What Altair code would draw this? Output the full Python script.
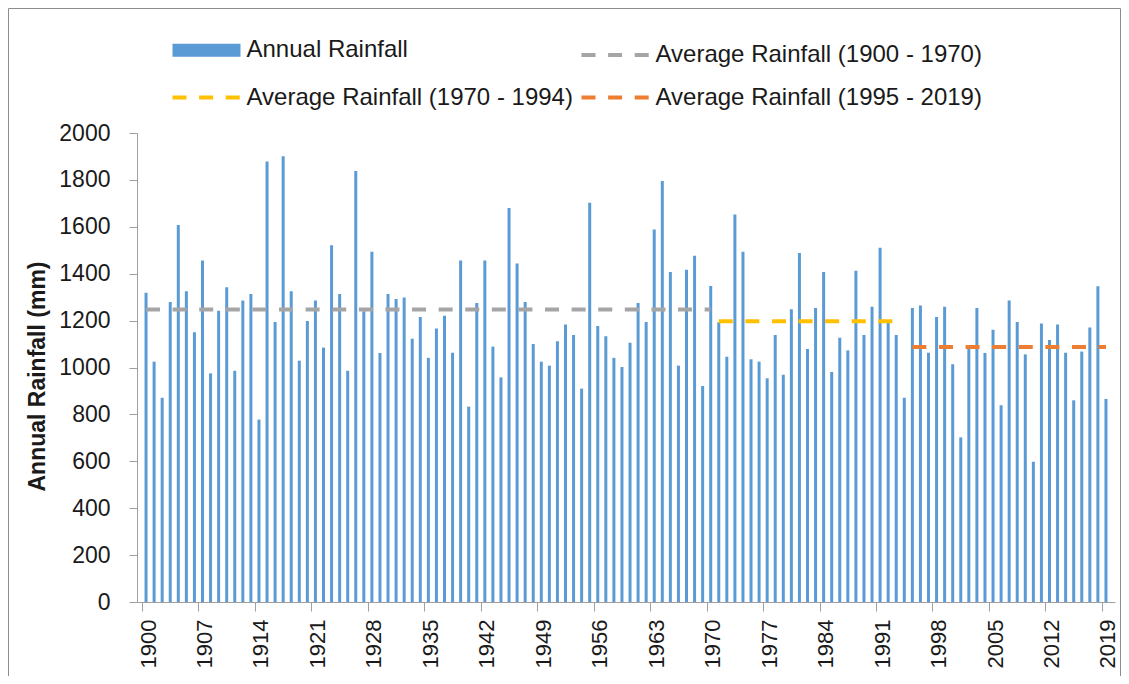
import altair as alt
import pandas as pd

# ---- data ----
years = list(range(1900, 2020))
rainfall = [
    1319, 1025, 871, 1279, 1608, 1325, 1150, 1456, 975, 1242,   # 1900-1909
    1342, 986, 1286, 1313, 778, 1878, 1194, 1901, 1325, 1029,   # 1910-1919
    1198, 1286, 1085, 1521, 1313, 986, 1838, 1240, 1494, 1062,  # 1920-1929
    1313, 1292, 1298, 1123, 1215, 1041, 1166, 1221, 1063, 1456, # 1930-1939
    833, 1275, 1456, 1089, 958, 1680, 1444, 1279, 1100, 1025,   # 1940-1949
    1008, 1112, 1183, 1139, 910, 1703, 1177, 1133, 1041, 1002,  # 1950-1959
    1106, 1275, 1194, 1588, 1795, 1407, 1008, 1417, 1477, 921,  # 1960-1969
    1348, 1193, 1046, 1652, 1494, 1035, 1025, 954, 1139, 969,   # 1970-1979
    1248, 1488, 1079, 1254, 1407, 981, 1127, 1073, 1413, 1139,  # 1980-1989
    1259, 1511, 1193, 1139, 871, 1254, 1264, 1063, 1215, 1259,  # 1990-1999
    1014, 702, 1079, 1254, 1062, 1161, 839, 1286, 1194, 1056,   # 2000-2009
    598, 1188, 1117, 1183, 1063, 860, 1068, 1171, 1346, 866,    # 2010-2019
]

# legend order (column-major grid of 2 columns)
series_names = [
    "Annual Rainfall",
    "Average Rainfall (1970 - 1994)",
    "Average Rainfall (1900 - 1970)",
    "Average Rainfall (1995 - 2019)",
]
series_colors = ["#5B9BD5", "#FFC000", "#A5A5A5", "#ED7D31"]
series_dash = [[1, 0], [14, 12.6], [14, 12.6], [14, 12.6]]
series_width = [13, 4, 4, 4]

avg_names = [
    "Average Rainfall (1900 - 1970)",
    "Average Rainfall (1970 - 1994)",
    "Average Rainfall (1995 - 2019)",
]
avg_values = [1247, 1197, 1087]
avg_start = [1900, 1971, 1995]
avg_end = [1970, 1993, 2019]

x_label_years = list(range(1900, 2020, 7))
y_ticks = list(range(0, 2001, 200))

# ---- tables ----
bars_df = pd.DataFrame({"year": years, "rain": rainfall})
rows = []
for n, v, s, e in zip(avg_names, avg_values, avg_start, avg_end):
    rows.append({"year": s, "rain": v, "series": n})
    rows.append({"year": e, "rain": v, "series": n})
lines_df = pd.DataFrame(rows)

FONT = "Liberation Sans, Arial, sans-serif"
TXT = "#1a1a1a"
AX = "#A0A0A0"
W, H = 978, 469
half = W / 120 / 2

x_scale = alt.Scale(domain=[1899.5, 2019.5], nice=False, zero=False)
y_scale = alt.Scale(domain=[0, 2000], nice=False)

x_axis = alt.Axis(
    title=None, values=x_label_years, format="d", labelAngle=270, labelAlign="right",
    labelBaseline="middle", labelFont=FONT, labelFontSize=22, labelColor=TXT,
    labelPadding=8, tickSize=9, tickColor=AX, domainColor=AX, tickOffset=-half,
    labelOffset=half + 2, labelOverlap=False, labelFlush=False, grid=False,
)
y_axis = alt.Axis(
    title="Annual Rainfall (mm)", values=y_ticks, format="d", labelFont=FONT,
    labelFontSize=23, labelColor=TXT, labelPadding=19, tickSize=8, tickColor=AX,
    domainColor=AX, labelFlush=False, grid=False, titleFont=FONT, titleFontSize=23,
    titleFontWeight="bold", titleColor=TXT, titleAngle=270, titleX=-100,
    titleY=243, titleAlign="center", titleBaseline="middle",
)

# a long horizontal stroke symbol with a small nominal size, so rows stay compact
leg = alt.Legend(
    title=None, orient="none", legendX=46, legendY=-106.5, columns=2,
    symbolType="M-2,0H2", symbolSize=34 * 34, labelFont=FONT, labelFontSize=24,
    labelColor=TXT, labelOffset=16.5, columnPadding=0, rowPadding=2,
    labelLimit=420, padding=0,
)

frame = alt.Chart(pd.DataFrame({"k": [0]})).mark_rect(
    fillOpacity=0, stroke="#8C8C8C", strokeWidth=1
).encode(
    x=alt.value(-128.5), x2=alt.value(983.5), y=alt.value(-124.5), y2=alt.value(600)
)

bars = alt.Chart(bars_df).mark_bar(size=3, color="#5B9BD5").encode(
    x=alt.X("year:Q", scale=x_scale, axis=x_axis),
    y=alt.Y("rain:Q", scale=y_scale, axis=y_axis),
)

lines = alt.Chart(lines_df).mark_line(strokeCap="butt").encode(
    x=alt.X("year:Q", scale=x_scale),
    y=alt.Y("rain:Q", scale=y_scale),
    color=alt.Color("series:N", scale=alt.Scale(domain=series_names, range=series_colors), legend=leg),
    strokeDash=alt.StrokeDash(
        "series:N", scale=alt.Scale(domain=series_names, range=series_dash), legend=leg,
    ),
    strokeWidth=alt.StrokeWidth(
        "series:N", scale=alt.Scale(type="ordinal", domain=series_names, range=series_width),
        legend=leg,
    ),
)

chart = alt.layer(frame, bars, lines).properties(
    width=W, height=H,
    padding={"left": 129, "top": 125, "right": 6, "bottom": 74},
    autosize=alt.AutoSizeParams(type="none"),
).configure_view(stroke=None)

chart.save("out.html", embed_options={"renderer": "svg", "actions": False})
